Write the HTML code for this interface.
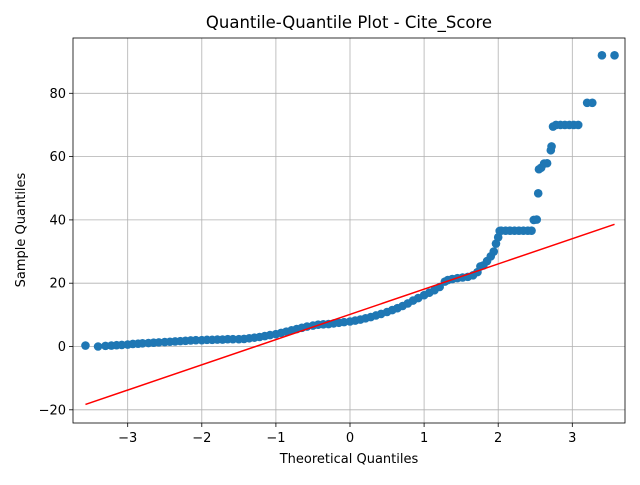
<!DOCTYPE html>
<html><head><meta charset="utf-8"><style>
body{margin:0;background:#fff;width:640px;height:480px;overflow:hidden}
svg{font-family:"DejaVu Sans","Liberation Sans",sans-serif}
</style></head><body>
<svg id="chart" width="640" height="480" xmlns="http://www.w3.org/2000/svg"></svg>
<script>
const theoretical = [-3.57,-3.4,-3.3,-3.22,-3.15,-3.08,-3.0,-2.93,-2.86,-2.8,-2.72,-2.65,-2.58,-2.5,-2.43,-2.36,-2.29,-2.22,-2.15,-2.08,-2.0,-1.93,-1.86,-1.79,-1.72,-1.65,-1.58,-1.5,-1.43,-1.36,-1.29,-1.22,-1.15,-1.08,-1.0,-0.93,-0.86,-0.79,-0.72,-0.65,-0.58,-0.5,-0.43,-0.36,-0.29,-0.22,-0.15,-0.08,0.0,0.07,0.14,0.21,0.28,0.35,0.42,0.5,0.57,0.64,0.71,0.78,0.85,0.92,1.0,1.07,1.14,1.21,1.28,1.32,1.38,1.45,1.52,1.59,1.66,1.72,1.76,1.8,1.85,1.9,1.94,1.97,2.0,2.02,2.04,2.1,2.16,2.22,2.28,2.34,2.4,2.45,2.48,2.52,2.54,2.55,2.58,2.62,2.66,2.71,2.72,2.74,2.78,2.84,2.9,2.96,3.02,3.08,3.2,3.27,3.4,3.57];
const sample = [0.3,0,0.2,0.3,0.4,0.5,0.6,0.8,0.9,1.0,1.1,1.2,1.3,1.4,1.5,1.6,1.7,1.8,1.9,2.0,2.0,2.1,2.1,2.2,2.2,2.3,2.3,2.3,2.4,2.6,2.8,3.0,3.3,3.6,3.9,4.3,4.7,5.1,5.5,5.9,6.3,6.6,6.9,7.0,7.1,7.3,7.5,7.7,7.9,8.2,8.5,8.9,9.3,9.8,10.3,10.9,11.5,12.1,12.8,13.6,14.5,15.3,16.2,17.0,17.8,18.8,20.5,21.0,21.3,21.6,21.8,22.0,22.5,23.5,25.3,25.6,27.0,28.5,30.0,32.5,34.5,36.5,36.6,36.6,36.6,36.6,36.6,36.6,36.6,36.6,40.0,40.1,48.4,56.0,56.5,57.8,57.9,62.0,63.2,69.5,70.0,70.0,70.0,70.0,70.0,70.0,77.0,77.0,92.0,92.0];
const lineX = [-3.57,3.57];
const lineY = [-18.3,38.6];
const xTicks = [-3,-2,-1,0,1,2,3];
const yTicks = [-20,0,20,40,60,80];

const L=73,R=625,T=38,B=423;
const sx=v=>350+v*74.1;
const sy=v=>346.5-v*3.165;
const svg=document.getElementById('chart');
const NS='http://www.w3.org/2000/svg';
function mk(t,a,p){const e=document.createElementNS(NS,t);for(const k in a)e.setAttribute(k,a[k]);(p||svg).appendChild(e);return e;}

const grid=mk('g',{});


xTicks.forEach(v=>{
  const l=mk('line',{x1:sx(v),x2:sx(v),y1:T,y2:B,stroke:'#b0b0b0','stroke-width':0.8},grid);
  
  
  const tk=mk('line',{x1:sx(v),x2:sx(v),y1:B,y2:B+4,stroke:'#000','stroke-width':0.8});
  
  
  const t=mk('text',{x:sx(v),y:B+19,'text-anchor':'middle','font-size':13,fill:'#000'});
  t.textContent=(v<0?'\u2212'+(-v):v);
  
  
});
yTicks.forEach(v=>{
  const l=mk('line',{x1:L,x2:R,y1:sy(v),y2:sy(v),stroke:'#b0b0b0','stroke-width':0.8},grid);
  
  
  const tk=mk('line',{x1:L-4,x2:L,y1:sy(v),y2:sy(v),stroke:'#000','stroke-width':0.8});
  
  
  const t=mk('text',{x:L-7,y:sy(v)+4.5,'text-anchor':'end','font-size':13,fill:'#000'});
  t.textContent=(v<0?'\u2212'+(-v):v);
  
  
});

const pts=mk('g',{});


theoretical.forEach((x,i)=>{
  const c=mk('circle',{cx:sx(x),cy:sy(sample[i]),r:4.3,fill:'#1f77b4'},pts);
  
  
});
const ln=mk('line',{x1:sx(lineX[0]),y1:sy(lineY[0]),x2:sx(lineX[1]),y2:sy(lineY[1]),stroke:'#ff0000','stroke-width':1.5});



const fr=mk('rect',{x:L,y:T,width:R-L,height:B-T,fill:'none',stroke:'#000','stroke-width':0.8});



const ti=mk('text',{x:(L+R)/2,y:28,'text-anchor':'middle','font-size':16.5,fill:'#000'});
ti.textContent='Quantile-Quantile Plot - Cite_Score';


const xl=mk('text',{x:(L+R)/2,y:463,'text-anchor':'middle','font-size':13,fill:'#000'});
xl.textContent='Theoretical Quantiles';


const yl=mk('text',{x:0,y:0,'text-anchor':'middle','font-size':13,fill:'#000',transform:'translate(25,230) rotate(-90)'});
yl.textContent='Sample Quantiles';


</script>
</body></html>
